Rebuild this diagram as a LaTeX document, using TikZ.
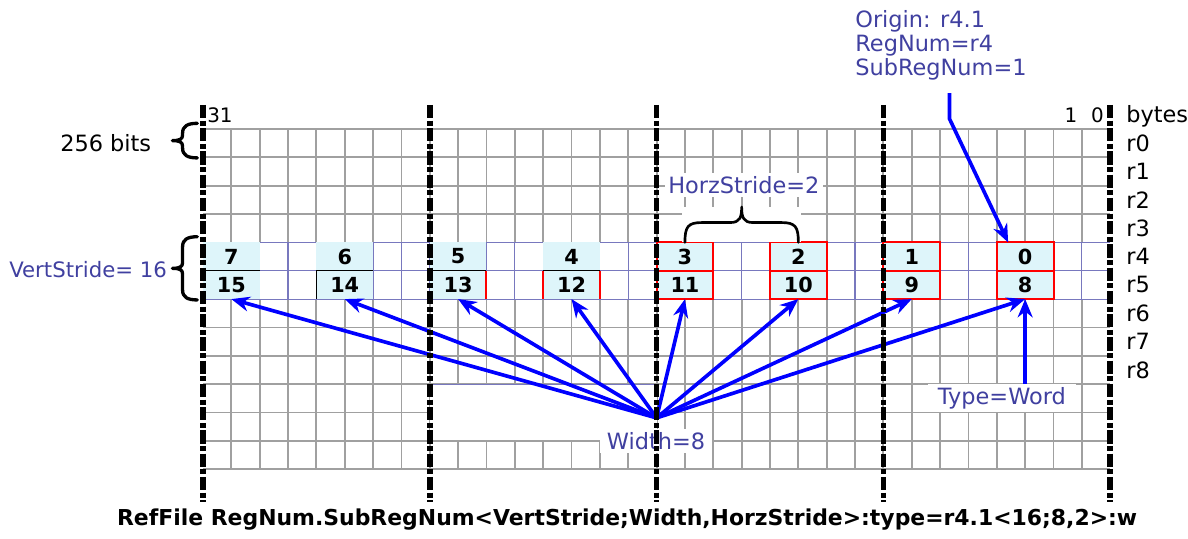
\documentclass[tikz,border=0pt]{standalone}
\usepackage{fontspec}
\setmainfont{DejaVu Sans}
\usetikzlibrary{arrows.meta, calc}

\definecolor{gridgray}{RGB}{160,160,160}
\definecolor{stridegrid}{RGB}{120,120,190}
\definecolor{labelblue}{RGB}{64,64,160}
\definecolor{cellcyan}{RGB}{222,245,250}

\begin{document}
\begin{tikzpicture}[
  x=0.6cm, y=-0.6cm,
  gridline/.style={gridgray, line width=1.1pt},
  strideline/.style={stridegrid, line width=0.7pt},
  elem/.style={rectangle, fill=cellcyan, minimum width=1.2cm, minimum height=0.6cm,
               inner sep=0pt, outer sep=0pt, font=\fontsize{12.5}{13}\selectfont\bfseries},
  redbox/.style={red, line width=1.2pt},
  regcol/.style={line width=3.4pt, dash pattern=on 8pt off 1.5pt on 3pt off 1.5pt},
  lbl/.style={font=\fontsize{13.5}{14.5}\selectfont, inner sep=1pt},
  bytelbl/.style={font=\fontsize{12}{13}\selectfont, inner sep=0pt},
  bluelbl/.style={lbl, text=labelblue},
  mask/.style={fill=white, draw=none},
  fanarrow/.style={-{Stealth[length=11pt, width=9pt]}, blue, line width=2.2pt},
  bracestroke/.style={line width=1.6pt, line cap=round, line join=round}
]
\useasboundingbox (-7.16,-4.55) rectangle (34.744,14.427);

% register grid
\foreach \rw in {0,...,3,7,8,...,12} \draw[gridline] (0,\rw) -- (32,\rw);
\foreach \cx in {1,...,31} {
  \draw[gridline] (\cx,0) -- (\cx,4);
  \draw[gridline] (\cx,6) -- (\cx,12);
  \draw[strideline] (\cx,4) -- (\cx,6);
}
\foreach \rw in {4,5,6} \draw[strideline] (0,\rw) -- (32,\rw);

% blank patch under the fan
\fill[mask] (8,9) rectangle (16,10.97);
\draw[strideline] (8,9) -- (16,9);

% region elements
\foreach \i in {0,...,7} {
  \pgfmathtruncatemacro\cx{29-4*\i}
  \pgfmathtruncatemacro\elo{\i+8}
  \node[elem] (e\i) at (\cx,4.5) {\i};
  \node[elem] (e\elo) at (\cx,5.5) {\elo};
}
\foreach \i in {0,1,2,3,8,9,10,11} \draw[redbox] (e\i.north west) rectangle (e\i.south east);
\foreach \i in {4,...,7} \draw[line width=0.9pt] (e\i.south west) -- (e\i.south east);
\draw[line width=0.9pt] (e14.north west) -- (e14.south west);
\draw[redbox] (e13.north east) -- (e13.south east);
\draw[redbox] (e12.north west) -- (e12.south west) (e12.north east) -- (e12.south east);

% braces
\fill[mask] (16.9,2.75) rectangle (21.1,3.97);
\draw[bracestroke] (e3.north) .. controls (17,3.45) and (17.1,3.3) .. (17.6,3.3) -- (18.6,3.3)
  .. controls (18.95,3.3) and (19,3.1) .. (19,2.75) .. controls (19,3.1) and (19.05,3.3) .. (19.4,3.3)
  -- (20.4,3.3) .. controls (20.9,3.3) and (21,3.45) .. (e2.north);
\foreach \ya/\yb in {-0.2/1.02, 3.8/6.03} {
  \pgfmathsetmacro\ym{(\ya+\yb)/2}
  \draw[bracestroke, line width=2pt] (-0.2,\ya) .. controls (-0.55,\ya) and (-0.72,\ya+0.1) .. (-0.72,\ya+0.35)
    -- (-0.72,\ym-0.2) .. controls (-0.72,\ym-0.05) and (-0.82,\ym) .. (-1.08,\ym)
    .. controls (-0.82,\ym) and (-0.72,\ym+0.05) .. (-0.72,\ym+0.2)
    -- (-0.72,\yb-0.35) .. controls (-0.72,\yb-0.1) and (-0.55,\yb) .. (-0.2,\yb);
}

% labels
\node[bluelbl, fill=white, inner sep=2pt] (horz) at (19.08,1.98) {HorzStride=2};
\node[lbl, anchor=west] (bytes) at (32.5,-0.46) {bytes};
\foreach \rw in {0,...,8} \node[lbl, anchor=west] (r\rw) at (32.5,\rw+0.5) {r\rw};
\node[bytelbl] (b31) at (0.6,-0.5) {31};
\node[bytelbl] (b1) at (30.62,-0.5) {1};
\node[bytelbl] (b0) at (31.55,-0.5) {0};
\node[lbl, anchor=east] (bits) at (-1.76,0.49) {256 bits};
\node[bluelbl, anchor=east, font=\fontsize{12.8}{14}\selectfont] (vert) at (-1.2,4.97) {VertStride= 16};
\node[bluelbl, anchor=north west, align=left, inner sep=0pt] (orig) at (23.0,-4.2)
  {Origin: r4.1\\RegNum=r4\\SubRegNum=1};
\node[bluelbl, fill=white, inner xsep=6pt, inner ysep=2pt, minimum height=16pt] (typew) at (28.18,9.49) {Type=Word};
\node[bluelbl, fill=white, inner xsep=4pt, inner ysep=2pt] (width) at (15.98,11.0) {Width=8};
\coordinate (fan) at (16,10.19);

% arrows
\foreach \j in {8,...,15} \draw[fanarrow] (fan) -- (e\j.south);
\draw[fanarrow] (typew.north -| e8.south) -- (e8.south);
\draw[fanarrow] ([shift={(0.3,0.45)}]orig.south) -- ++(0,0.9)
  -- ($(e0.north west)!0.2!(e0.north east)$);

% register boundaries
\foreach \cx in {0,8,16,24,32} \draw[regcol] (\cx,-0.85) -- (\cx,13.16);

\node[font=\fontsize{13.2}{14}\selectfont\bfseries] (caption) at (14.96,13.76)
  {RefFile RegNum.SubRegNum<VertStride;Width,HorzStride>:type=r4.1<16;8,2>:w};
\end{tikzpicture}
\end{document}
